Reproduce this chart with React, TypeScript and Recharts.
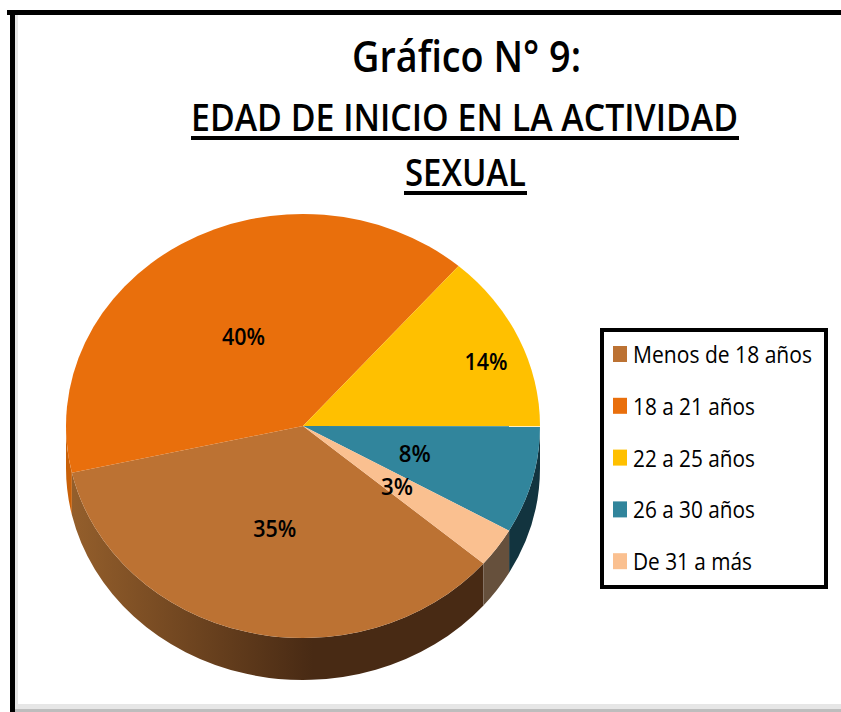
import React from 'react';
import { PieChart, Pie, Cell, Legend } from 'recharts';

const categories = ['Menos de 18 años', '18 a 21 años', '22 a 25 años', '26 a 30 años', 'De 31 a más'];
// slice sizes, the printed labels are these rounded
const percentages = [35.2, 39.9, 13.6, 8.2, 3.0];
const titleLines = ['Gráfico N° 9:', 'EDAD DE INICIO EN LA ACTIVIDAD', 'SEXUAL'];

const topColors = ['#BC7233', '#E96F0C', '#FFC000', '#31859C', '#FAC090'];
const wallColors = ['url(#brownWall)', '#C96008', '#B08400', '#12343F', '#66503C'];

// where each label sits: fraction of the radius and turn away from the slice middle
const labelRadius = [0.5, 0.49, 0.83, 0.49, 0.49];
const labelTurn = [0, 0, -3, -1, -1];
const legendTextWidths = [179, 122, 122, 122, 119];

const FONT = '"Open Sans", sans-serif';
const CX = 303;
const CY = 426;
const RX = 237;
const RY = 212;
const DEPTH = 42;

const pieData = categories.map((name, i) => ({ name, value: percentages[i] }));

const rad = (deg: number) => (deg * Math.PI) / 180;
const pt = (cx: number, cy: number, deg: number) => [cx + RX * Math.cos(rad(deg)), cy - RY * Math.sin(rad(deg))];

// flat top of a slice, the library gives a circle so it is squashed to an ellipse here
const TopSlice = (props: any) => {
  const { cx, cy, startAngle, endAngle, fill } = props;
  const [x1, y1] = pt(cx, cy, startAngle);
  const [x2, y2] = pt(cx, cy, endAngle);
  const large = Math.abs(endAngle - startAngle) > 180 ? 1 : 0;
  const sweep = endAngle < startAngle ? 1 : 0;
  return <path d={`M${cx},${cy} L${x1},${y1} A${RX},${RY} 0 ${large} ${sweep} ${x2},${y2} Z`} fill={fill} />;
};

// side wall, only the part of the rim on the lower half can be seen
const WallSlice = (props: any) => {
  const { cx, cy, startAngle, endAngle, fill } = props;
  const lo = Math.min(startAngle, endAngle);
  const hi = Math.max(startAngle, endAngle);
  const parts: string[] = [];
  [[180, 360], [-180, 0]].forEach(([a, b]) => {
    const from = Math.max(lo, a);
    const to = Math.min(hi, b);
    if (to <= from) return;
    const [x1, y1] = pt(cx, cy, from);
    const [x2, y2] = pt(cx, cy, to);
    parts.push(
      `M${x1},${y1} A${RX},${RY} 0 0 0 ${x2},${y2} L${x2},${y2 + DEPTH} A${RX},${RY} 0 0 1 ${x1},${y1 + DEPTH} Z`
    );
  });
  return <path d={parts.join(' ')} fill={fill} />;
};

const renderLabel = (props: any) => {
  const { cx, cy, midAngle, value, index } = props;
  const f = labelRadius[index];
  const a = midAngle + labelTurn[index];
  const x = cx + RX * f * Math.cos(rad(a));
  const y = cy - RY * f * Math.sin(rad(a));
  const shown = Math.round(value);
  return (
    <text
      x={x}
      y={y + 8}
      textAnchor="middle"
      fontFamily={FONT}
      fontSize={23}
      fontWeight={600}
      fill="#000"
      textLength={shown < 10 ? 32 : 43}
      lengthAdjust="spacingAndGlyphs"
    >
      {`${shown}%`}
    </text>
  );
};

const LegendBox = () => (
  <svg width={228} height={261} style={{ display: 'block' }}>
    <rect x={2} y={2} width={224} height={257} fill="#fff" stroke="#000" strokeWidth={4} />
    {categories.map((name, i) => (
      <g key={name}>
        <rect x={13} y={18 + i * 51.8} width={14} height={16} fill={topColors[i]} />
        <text
          x={33}
          y={35 + i * 51.8}
          fontFamily={FONT}
          fontSize={23}
          fill="#000"
          textLength={legendTextWidths[i]}
          lengthAdjust="spacingAndGlyphs"
        >
          {name}
        </text>
      </g>
    ))}
  </svg>
);

const Frame = () => (
  <>
    <div style={{ position: 'absolute', left: 10, top: 10, width: 5, height: 702, background: '#000' }} />
    <div style={{ position: 'absolute', left: 7, top: 10, width: 834, height: 5, background: '#000' }} />
    <div style={{ position: 'absolute', left: 15, top: 15, width: 3, height: 697, background: '#E6E6E6' }} />
    <div style={{ position: 'absolute', left: 15, top: 704, width: 826, height: 5, background: '#E6E6E6' }} />
    <div style={{ position: 'absolute', left: 15, top: 709, width: 826, height: 3, background: '#BDBDBD' }} />
  </>
);

const Title = () => (
  <svg width={841} height={210} style={{ position: 'absolute', left: 0, top: 0 }}>
    <g fontFamily={FONT} fill="#000" fontWeight={600}>
      <text x={352} y={72} fontSize={44} textLength={229} lengthAdjust="spacingAndGlyphs">{titleLines[0]}</text>
      <text x={191} y={131} fontSize={38} textLength={547} lengthAdjust="spacingAndGlyphs">{titleLines[1]}</text>
      <text x={405} y={186} fontSize={38} textLength={121} lengthAdjust="spacingAndGlyphs">{titleLines[2]}</text>
    </g>
    <rect x={191} y={136} width={548} height={4} fill="#000" />
    <rect x={404} y={191} width={123} height={4} fill="#000" />
  </svg>
);

export default function App() {
  return (
    <div style={{ position: 'absolute', left: 0, top: 0, width: 841, height: 712, overflow: 'hidden', background: '#fff' }}>
      <Frame />
      <Title />
      <div style={{ position: 'absolute', left: 0, top: 0 }}>
        <PieChart width={841} height={712} margin={{ top: 0, right: 0, bottom: 0, left: 0 }}>
          <defs>
            <linearGradient id="brownWall" gradientUnits="userSpaceOnUse" x1={CX - RX} y1={0} x2={CX + 10} y2={0}>
              <stop offset="0" stopColor="#96602C" />
              <stop offset="1" stopColor="#482A14" />
            </linearGradient>
          </defs>
          <Legend
            content={<LegendBox />}
            wrapperStyle={{ position: 'absolute', left: 600, top: 328, width: 228, height: 261 }}
          />
          <Pie
            data={pieData}
            dataKey="value"
            nameKey="name"
            cx={CX}
            cy={CY}
            outerRadius={RX}
            startAngle={319.6}
            endAngle={-40.4}
            stroke="none"
            legendType="none"
            shape={WallSlice}
            isAnimationActive={false}
          >
            {pieData.map((d, i) => (
              <Cell key={d.name} fill={wallColors[i]} />
            ))}
          </Pie>
          <Pie
            data={pieData}
            dataKey="value"
            nameKey="name"
            cx={CX}
            cy={CY}
            outerRadius={RX}
            startAngle={319.6}
            endAngle={-40.4}
            stroke="none"
            shape={TopSlice}
            label={renderLabel}
            labelLine={false}
            isAnimationActive={false}
          >
            {pieData.map((d, i) => (
              <Cell key={d.name} fill={topColors[i]} />
            ))}
          </Pie>
        </PieChart>
      </div>
    </div>
  );
}
